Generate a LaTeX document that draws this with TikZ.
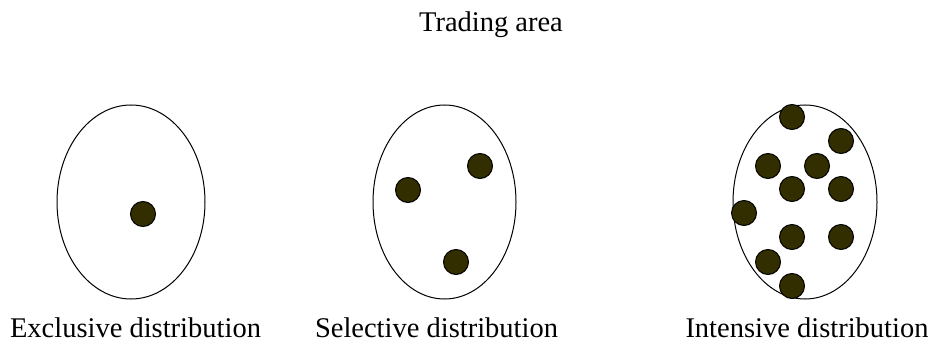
\documentclass[tikz,border=0pt]{standalone}
\usepackage{fontspec}
\setmainfont{Liberation Serif}
\definecolor{dotfill}{HTML}{332E00}
\begin{document}
\begin{tikzpicture}[x=1pt,y=-1pt,
  area/.style={draw=black,line width=1pt},
  outlet/.style={circle,draw=black,line width=1pt,fill=dotfill,minimum size=25pt,inner sep=0pt},
  lbl/.style={anchor=base,inner sep=0pt,font=\fontsize{28.5}{32}\selectfont}]
\useasboundingbox (0,0) rectangle (931,342);
\fill[white] (0,0) rectangle (931,342);
\node[lbl] (title) at (491,32) {Trading area};
% areas
\draw[area] (131,202) ellipse [x radius=74pt, y radius=97pt];
\draw[area] (444.5,202) ellipse [x radius=71.5pt, y radius=97pt];
\draw[area] (805,202) ellipse [x radius=72pt, y radius=97pt];
% exclusive
\node[outlet] (e1) at (143,214) {};
% selective
\node[outlet] (s1) at (480,166) {};
\node[outlet] (s2) at (408,190) {};
\node[outlet] (s3) at (456,262) {};
% intensive
\node[outlet] (i1) at (792,117) {};
\node[outlet] (i2) at (841,141) {};
\node[outlet] (i3) at (768,166) {};
\node[outlet] (i4) at (817,166) {};
\node[outlet] (i5) at (792,189) {};
\node[outlet] (i6) at (841,189) {};
\node[outlet] (i7) at (744,213) {};
\node[outlet] (i8) at (792,237) {};
\node[outlet] (i9) at (841,237) {};
\node[outlet] (i10) at (768,262) {};
\node[outlet] (i11) at (792,286) {};
% labels
\node[lbl] (l1) at (135.5,337) {Exclusive distribution};
\node[lbl] (l2) at (436.5,337) {Selective distribution};
\node[lbl] (l3) at (807,337) {Intensive distribution};
\end{tikzpicture}
\end{document}
